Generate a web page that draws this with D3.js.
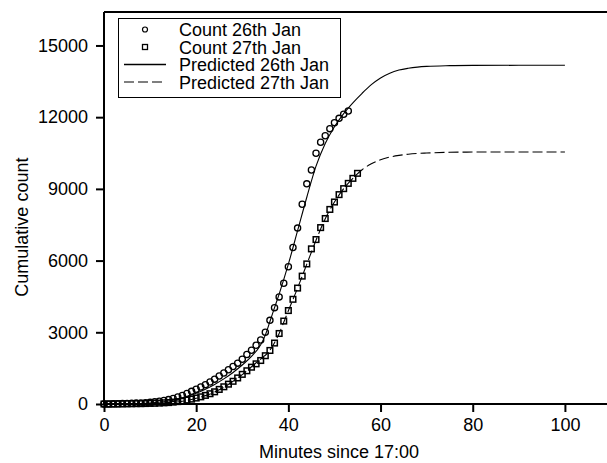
<!DOCTYPE html>
<html>
<head>
<meta charset="utf-8">
<script src="https://cdn.jsdelivr.net/npm/d3@7"></script>
<style>
  html, body { margin: 0; padding: 0; background: #fff; }
  svg { display: block; font-family: "Liberation Sans", Arial, sans-serif; }
</style>
</head>
<body>
<svg id="chart" width="607" height="463"></svg>
<script>
// observed counts, one per minute
const minutes26 = [0,1,2,3,4,5,6,7,8,9,10,11,12,13,14,15,16,17,18,19,20,21,22,23,24,25,26,27,28,29,30,31,32,33,34,35,36,37,38,39,40,41,42,43,44,45,46,47,48,49,50,51,52,53];
const counts26 = [0,5,10,15,20,25,30,38,45,55,70,90,115,145,185,235,290,360,440,530,620,710,810,920,1040,1170,1300,1430,1570,1710,1870,2070,2250,2460,2680,3000,3500,4030,4480,5050,5740,6550,7360,8360,9210,9790,10490,10950,11220,11520,11770,11950,12120,12260];

const minutes27 = [0,1,2,3,4,5,6,7,8,9,10,11,12,13,14,15,16,17,18,19,20,21,22,23,24,25,26,27,28,29,30,31,32,33,34,35,36,37,38,39,40,41,42,43,44,45,46,47,48,49,50,51,52,53,54,55];
const counts27 = [0,0,0,5,5,10,10,15,15,20,25,30,40,50,60,80,100,130,165,205,250,300,360,430,510,610,720,830,950,1090,1240,1390,1540,1680,1820,2020,2240,2550,2950,3470,3910,4380,4850,5350,5860,6490,6880,7380,7760,8140,8450,8760,9010,9230,9440,9650];

// fitted curves
const predMinutes26 = [0,5,10,14,16,18,20,22,24,26,28,30,32,34,35,36,37,38,40,42,44,46,48,50,52,54,56,58,60,62,64,66,68,70,75,80,90,100];
const predCounts26 = [0,8,45,125,200,310,450,620,820,1050,1320,1630,1990,2480,2880,3450,4030,4600,5850,7250,8650,9950,10900,11600,12150,12600,13000,13360,13640,13840,13970,14045,14095,14125,14155,14165,14170,14170];

const predMinutes27 = [0,10,15,18,20,22,24,26,28,30,32,34,36,38,39,40,42,44,46,48,50,52,54,56,58,60,62,64,66,70,75,80,100];
const predCounts27 = [0,20,70,150,240,350,500,700,950,1230,1560,1880,2250,2950,3420,3900,4850,5850,6850,7750,8450,9010,9440,9800,10050,10220,10330,10400,10450,10500,10530,10540,10540];

const xTicks = [0,20,40,60,80,100];
const yTicks = [0,3000,6000,9000,12000,15000];
const legendLabels = ["Count 26th Jan","Count 27th Jan","Predicted 26th Jan","Predicted 27th Jan"];

const svg = d3.select('#chart');
const plotLeft = 104, plotRight = 611, plotTop = 12, plotBottom = 404;

const x = d3.scaleLinear().domain([0, 110]).range([plotLeft, plotRight]);
const y = d3.scaleLinear().domain([0, 16400]).range([plotBottom, plotTop]);

// top edge of the frame
svg.append('line')
  .attr('x1', plotLeft).attr('x2', 607).attr('y1', plotTop).attr('y2', plotTop)
  .attr('stroke', '#000').attr('stroke-width', 2);

// axes
const xAxis = svg.append('g')
  .attr('transform', `translate(0,${plotBottom})`)
  .call(d3.axisBottom(x).tickValues(xTicks).tickSize(8).tickPadding(6).tickFormat(d3.format('d')));
xAxis.select('.domain').attr('d', `M${plotLeft},0H607`).attr('stroke-width', 2);
xAxis.selectAll('.tick line').attr('stroke-width', 2);
xAxis.selectAll('.tick text').attr('font-size', 18).attr('fill', '#000');

const yAxis = svg.append('g')
  .attr('transform', `translate(${plotLeft},0)`)
  .call(d3.axisLeft(y).tickValues(yTicks).tickSize(8).tickPadding(8).tickFormat(d3.format('d')));
yAxis.select('.domain').attr('d', `M0,${plotTop}V${plotBottom}`).attr('stroke-width', 2);
yAxis.selectAll('.tick line').attr('stroke-width', 2);
yAxis.selectAll('.tick text').attr('font-size', 18).attr('fill', '#000');

svg.selectAll('.domain').attr('stroke', '#000');
svg.selectAll('.tick line').attr('stroke', '#000');
svg.selectAll('g').attr('font-family', null);

// axis titles
svg.append('text')
  .attr('x', x(51)).attr('y', 458)
  .attr('text-anchor', 'middle').attr('font-size', 18)
  .text('Minutes since 17:00');
svg.append('text')
  .attr('transform', `translate(28,${y(7400)}) rotate(-90)`)
  .attr('text-anchor', 'middle').attr('font-size', 18)
  .text('Cumulative count');

// observed points
const pts26 = minutes26.map((m, i) => [m, counts26[i]]);
const pts27 = minutes27.map((m, i) => [m, counts27[i]]);

svg.append('g').selectAll('circle')
  .data(pts26).join('circle')
  .attr('cx', d => x(d[0])).attr('cy', d => y(d[1]))
  .attr('r', 3.1).attr('fill', 'none')
  .attr('stroke', '#000').attr('stroke-width', 1.3);

svg.append('g').selectAll('rect')
  .data(pts27).join('rect')
  .attr('x', d => x(d[0]) - 2.8).attr('y', d => y(d[1]) - 2.8)
  .attr('width', 5.6).attr('height', 5.6).attr('fill', 'none')
  .attr('stroke', '#000').attr('stroke-width', 1.5);

// fitted lines
const line = d3.line().x(d => x(d[0])).y(d => y(d[1])).curve(d3.curveMonotoneX);
const pred26 = predMinutes26.map((m, i) => [m, predCounts26[i]]);
const pred27 = predMinutes27.map((m, i) => [m, predCounts27[i]]);

svg.append('path').datum(pred26)
  .attr('d', line).attr('fill', 'none')
  .attr('stroke', '#000').attr('stroke-width', 1.1);
svg.append('path').datum(pred27)
  .attr('d', line).attr('fill', 'none')
  .attr('stroke', '#000').attr('stroke-width', 1.1)
  .attr('stroke-dasharray', '10,4');

// legend
const legend = svg.append('g');
legend.append('rect')
  .attr('x', 118.5).attr('y', 18.5).attr('width', 222).attr('height', 79)
  .attr('fill', '#fff').attr('stroke', '#000').attr('stroke-width', 1);

const rowY = [29.5, 47, 64.5, 82];
legend.append('circle').attr('cx', 145).attr('cy', rowY[0]).attr('r', 2.5)
  .attr('fill', 'none').attr('stroke', '#000').attr('stroke-width', 1.2);
legend.append('rect').attr('x', 142.5).attr('y', rowY[1] - 2.5).attr('width', 5).attr('height', 5)
  .attr('fill', 'none').attr('stroke', '#000').attr('stroke-width', 1.3);
legend.append('line').attr('x1', 124).attr('x2', 166).attr('y1', rowY[2]).attr('y2', rowY[2])
  .attr('stroke', '#000').attr('stroke-width', 1.5);
legend.append('line').attr('x1', 124).attr('x2', 166).attr('y1', rowY[3]).attr('y2', rowY[3])
  .attr('stroke', '#000').attr('stroke-width', 1.1).attr('stroke-dasharray', '10,4');

legend.selectAll('text.lab')
  .data(legendLabels).join('text')
  .attr('class', 'lab')
  .attr('x', 179).attr('y', (d, i) => rowY[i] + 6.5)
  .attr('font-size', 18)
  .text(d => d);
</script>
</body>
</html>
